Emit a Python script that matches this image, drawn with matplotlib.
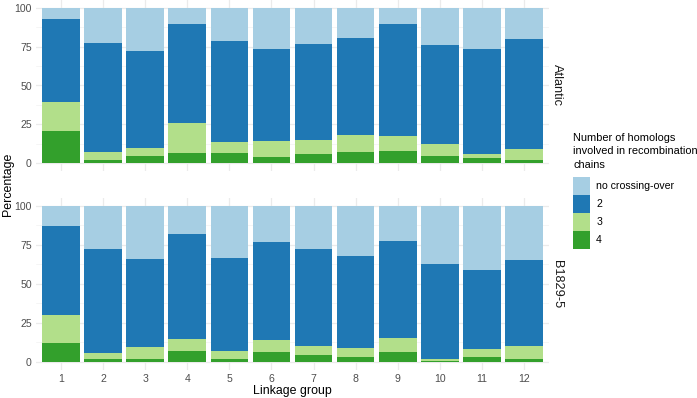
import numpy as np
import matplotlib.pyplot as plt
from matplotlib.patches import Patch

plt.rcParams['font.family'] = ['Liberation Sans', 'DejaVu Sans']

groups = [str(i) for i in range(1, 13)]
panels = ['Atlantic', 'B1829-5']

# percentages per linkage group, stacked bottom -> top: 4, 3, 2, no crossing-over
atl_four = [20.9, 2.1, 4.9, 6.6, 6.8, 4.3, 5.8, 7.0, 7.9, 4.5, 3.6, 2.1]
atl_three = [18.2, 5.4, 4.7, 19.0, 6.7, 10.2, 9.2, 11.2, 9.4, 8.1, 2.6, 6.9]
atl_two = [53.9, 69.6, 62.6, 64.1, 65.3, 59.2, 61.5, 62.1, 72.2, 63.7, 67.3, 70.9]
atl_none = [7.0, 22.9, 27.8, 10.3, 21.2, 26.3, 23.5, 19.7, 10.5, 23.7, 26.5, 20.1]

b18_four = [12.0, 1.9, 1.5, 7.1, 1.5, 6.2, 4.3, 2.8, 6.2, 0.6, 2.8, 1.7]
b18_three = [18.0, 3.5, 8.1, 7.5, 5.6, 7.7, 6.0, 6.2, 9.0, 1.3, 5.6, 8.2]
b18_two = [57.2, 66.8, 56.4, 67.2, 59.3, 63.0, 62.3, 59.1, 62.5, 60.6, 50.7, 55.4]
b18_none = [12.8, 27.8, 34.0, 18.2, 33.6, 23.1, 27.4, 31.9, 22.3, 37.5, 40.9, 34.7]

series_labels = ['no crossing-over', '2', '3', '4']
colors = {'no crossing-over': '#A6CEE3', '2': '#1F78B4', '3': '#B2DF8A', '4': '#33A02C'}
legend_title = ['Number of homologs', 'involved in recombination', 'chains']

data = {
    'Atlantic': {'4': atl_four, '3': atl_three, '2': atl_two, 'no crossing-over': atl_none},
    'B1829-5': {'4': b18_four, '3': b18_three, '2': b18_two, 'no crossing-over': b18_none},
}

W, H = 697, 398
fig = plt.figure(figsize=(W / 100, H / 100), dpi=100)

def px_axes(left, top, right, bottom):
    return fig.add_axes([left / W, 1 - bottom / H, (right - left) / W, (bottom - top) / H])

boxes = [(36, 0, 549, 171), (36, 198, 549, 369.5)]
x = np.arange(1, 13)
tick_col = '#4D4D4D'

for k, (name, box) in enumerate(zip(panels, boxes)):
    ax = px_axes(*box)
    ax.set_xlim(0.4, 12.6)
    ax.set_ylim(-5, 105)
    for s in ax.spines.values():
        s.set_visible(False)
    for yv in [12.5, 37.5, 62.5, 87.5]:
        ax.axhline(yv, color='#F2F2F2', lw=0.5, zorder=0)
    for yv in [0, 25, 50, 75, 100]:
        ax.axhline(yv, color='#EBEBEB', lw=0.9, zorder=0)
    for xv in x:
        ax.axvline(xv, color='#EBEBEB', lw=0.9, zorder=0)
    bottom = np.zeros(12)
    for lab in ['4', '3', '2', 'no crossing-over']:
        vals = np.array(data[name][lab])
        ax.bar(x, vals, bottom=bottom, width=0.9, color=colors[lab], lw=0, zorder=2)
        bottom += vals
    ax.set_yticks([0, 25, 50, 75, 100])
    ax.set_yticklabels(['0', '25', '50', '75', '100'], fontsize=7.6, color=tick_col)
    ax.tick_params(length=0, pad=3)
    ax.set_xticks(x)
    if k == 1:
        ax.set_xticklabels(groups, fontsize=7.6, color=tick_col)
        ax.set_xlabel('Linkage group', fontsize=8.9, labelpad=1)
    else:
        ax.set_xticklabels([])
    ax.text(1.004, 0.5, name, transform=ax.transAxes, rotation=-90,
            ha='left', va='center', fontsize=9.2, color='#1A1A1A')

fig.text(8 / W, 1 - 184 / H, 'Percentage', rotation=90, ha='center', va='center', fontsize=8.9)

# legend title drawn line by line (ggplot-like spacing)
for i, line in enumerate(legend_title):
    fig.text(573 / W, 1 - (138 + 13.3 * i) / H, line, ha='left', va='center', fontsize=7.9)

handles = [Patch(facecolor=colors[l], edgecolor='none') for l in series_labels]
leg = fig.legend(handles, series_labels, loc='upper left', bbox_to_anchor=(573 / W, 1 - 177 / H),
                 frameon=False, fontsize=7.6, handlelength=1.6, handleheight=2.25,
                 handletextpad=0.6, labelspacing=0.0, borderpad=0, borderaxespad=0)

fig.savefig('out.png', dpi=100)
